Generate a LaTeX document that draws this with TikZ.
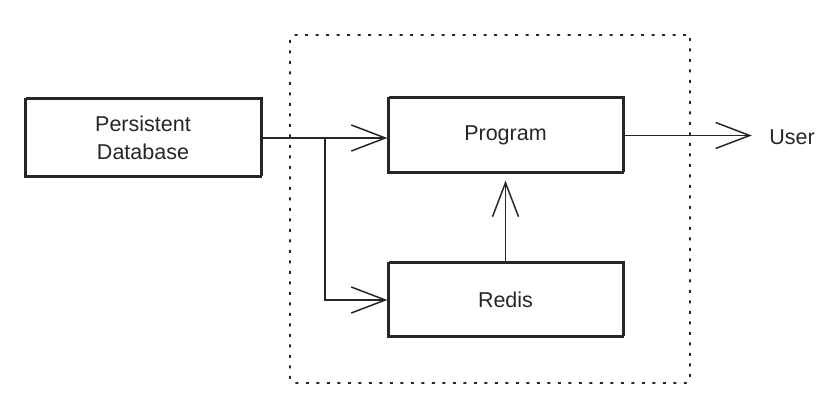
\documentclass[tikz,border=0pt]{standalone}
\usepackage{fontspec}
\setmainfont{Liberation Sans}
\usetikzlibrary{arrows.meta}
\begin{document}
\begin{tikzpicture}[x=1pt,y=-1pt,
  every node/.style={font=\fontsize{21.5}{28}\selectfont, text=black!85},
  box/.style={draw=black!85, line width=1.2pt, align=center,
    preaction={draw=black!85, line width=0.7pt, transform canvas={shift={(1.5pt,1.8pt)}}}},
  frame/.style={draw=black!85, line width=1.6pt, dash pattern=on 3pt off 7.5pt, rounded corners=4pt},
  arr/.style={draw=black!85, line width=1.5pt, line cap=round, -{Straight Barb[length=34pt,width=26pt,line width=1.5pt]}}]
\useasboundingbox (0,0) rectangle (835,404);
\node[frame, minimum width=400pt, minimum height=348pt] (grp) at (490,209) {};
\node[box, minimum width=236pt, minimum height=78pt] (db) at (143,138) {Persistent\\Database};
\node[box, minimum width=235pt, minimum height=75pt] (prog) at (505.5,135.5) {Program};
\node[box, minimum width=235pt, minimum height=74pt] (redis) at (505.5,300) {Redis};
\node (user) at (792,137) {User};
\coordinate (j) at (325,138);
\draw[arr] (db.east) -- (db.east -| prog.west);
\draw[arr] (j) |- (redis.west);
\draw[arr, shorten >=7pt] (redis.north) -- (prog.south);
\draw[arr, shorten >=14pt] (prog.east) -- (prog.east -| user.west);
\end{tikzpicture}
\end{document}
